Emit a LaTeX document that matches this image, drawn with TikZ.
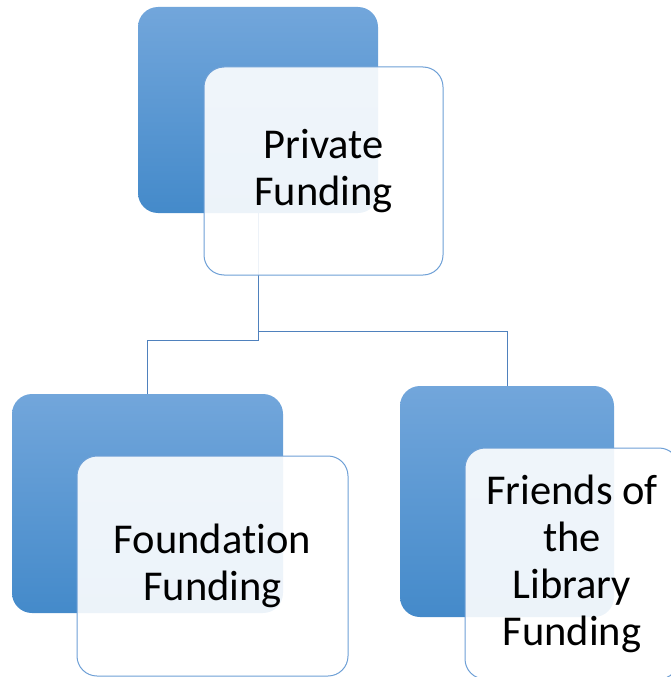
\documentclass[tikz,border=0pt]{standalone}
\usepackage{fontspec}
\setmainfont{Carlito}[Ligatures=NoCommon]
\definecolor{blueTop}{RGB}{114,166,219}
\definecolor{blueBot}{RGB}{68,138,202}
\definecolor{boxLine}{RGB}{110,160,214}
\definecolor{connLine}{RGB}{79,129,189}
\tikzset{
  backbox/.style={rectangle, rounded corners=20pt, top color=blueTop, bottom color=blueBot, draw=none},
  frontbox/.style={rectangle, rounded corners=20pt, fill=white, fill opacity=0.9, text opacity=1, draw=boxLine, line width=1pt, align=center, font=\fontsize{42.5}{47}\selectfont},
  conn/.style={draw=connLine, line width=1pt}
}
\begin{document}
\begin{tikzpicture}[x=1pt, y=1pt]
            \useasboundingbox (0, 0) rectangle (670, -677);

            \node[backbox, minimum width=240pt, minimum height=206pt] (privback) at (258, -110) {};
            \node[backbox, minimum width=271pt, minimum height=219pt] (foundback) at (147.5, -503.5) {};
            \node[backbox, minimum width=214pt, minimum height=231pt] (friendback) at (507, -501.5) {};

            \coordinate (busL) at (0, -340);
            \coordinate (busR) at (0, -331);
            \draw[conn] (privback.south) -- (privback.south |- busL) -| (foundback.north);
            \draw[conn] (privback.south |- busR) -| (friendback.north);

            \node[frontbox, minimum width=239pt, minimum height=208pt] (priv) at (323.5, -171) {Private\\Funding};
            \node[frontbox, minimum width=271pt, minimum height=220pt] (found) at (212.5, -566) {Foundation\\Funding};
            \node[frontbox, minimum width=214pt, minimum height=231pt] (friend) at (572, -563.5) {Friends of\\the\\Library\\Funding};
        \end{tikzpicture}
\end{document}
